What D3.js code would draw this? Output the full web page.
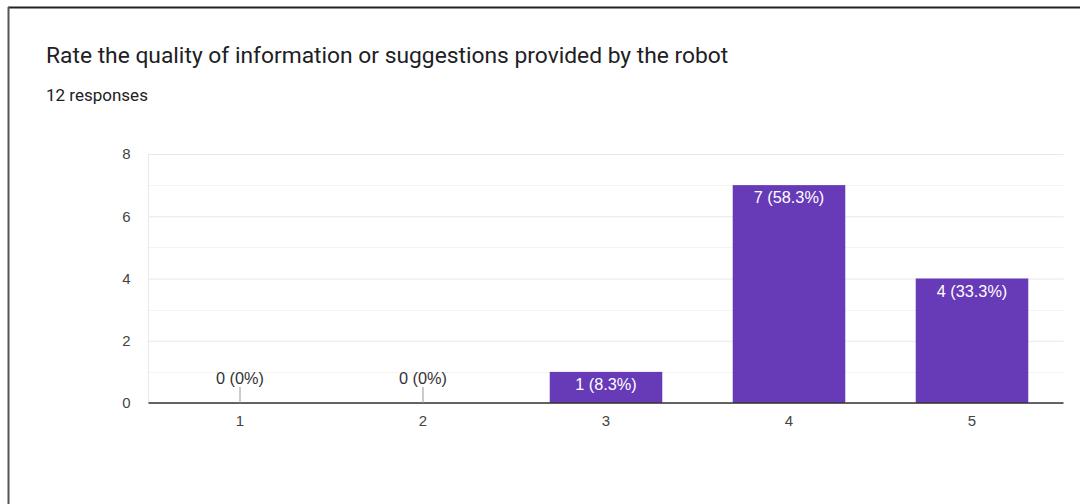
<!DOCTYPE html>
<html>
<head>
<meta charset="utf-8">
<script src="https://cdn.jsdelivr.net/npm/d3@7"></script>
<style>
  html, body { margin: 0; padding: 0; background: #fff; }
  svg { display: block; }
</style>
</head>
<body>
<svg id="chart" width="1080" height="504"></svg>
<script>
// Survey results: rating counts for each score
const categories = ["1", "2", "3", "4", "5"];
const counts = [0, 0, 1, 7, 4];
const valueLabels = ["0 (0%)", "0 (0%)", "1 (8.3%)", "7 (58.3%)", "4 (33.3%)"];
const yTicks = [0, 2, 4, 6, 8];
const titleText = "Rate the quality of information or suggestions provided by the robot";
const subtitleText = "12 responses";

const svg = d3.select("#chart");
const W = 1080, H = 504;
const plot = { left: 148.5, right: 1063.5, top: 154, bottom: 403 };
const labelFont = "Arial, 'Liberation Sans', sans-serif";

// card frame
svg.append("line").attr("x1", 8).attr("x2", W).attr("y1", 7.5).attr("y2", 7.5)
  .attr("stroke", "#222").attr("stroke-width", 2);
svg.append("line").attr("x1", 8.5).attr("x2", 8.5).attr("y1", 7).attr("y2", H)
  .attr("stroke", "#555").attr("stroke-width", 2);

svg.append("text").attr("x", 46).attr("y", 63)
  .attr("font-family", "Roboto, Arial, sans-serif").attr("font-size", 22.8)
  .attr("fill", "#202124").text(titleText);
svg.append("text").attr("x", 46).attr("y", 101)
  .attr("font-family", "Roboto, Arial, sans-serif").attr("font-size", 17)
  .attr("fill", "#202124").text(subtitleText);

const x = d3.scaleBand().domain(categories).range([plot.left, plot.right]).paddingInner(0.385).paddingOuter(0.1925);
const y = d3.scaleLinear().domain([0, 8]).range([plot.bottom, plot.top]);

// minor gridlines (every unit)
const minor = d3.range(1, 8, 2);
svg.append("g").selectAll("line").data(minor).join("line")
  .attr("x1", plot.left).attr("x2", plot.right)
  .attr("y1", d => Math.round(y(d)) + 0.5).attr("y2", d => Math.round(y(d)) + 0.5)
  .attr("stroke", "#f3f3f3");

// major gridlines + y labels via axis
const yAxis = d3.axisLeft(y).tickValues(yTicks).tickSize(-(plot.right - plot.left)).tickPadding(18).tickFormat(d3.format("d"));
const gy = svg.append("g").attr("transform", `translate(${plot.left},0)`).call(yAxis);
gy.select(".domain").remove();
gy.selectAll(".tick line").attr("stroke", "#e8e8e8");
gy.selectAll(".tick text").attr("font-family", labelFont)
  .attr("font-size", 15).attr("fill", "#444");

// left edge of plot area
svg.append("line").attr("x1", plot.left).attr("x2", plot.left).attr("y1", plot.top).attr("y2", plot.bottom)
  .attr("stroke", "#e8e8e8");

const data = categories.map((c, i) => ({ c, v: counts[i], label: valueLabels[i] }));

// bars
svg.append("g").selectAll("rect").data(data.filter(d => d.v > 0)).join("rect")
  .attr("x", d => x(d.c)).attr("width", x.bandwidth())
  .attr("y", d => y(d.v)).attr("height", d => y(0) - y(d.v))
  .attr("fill", "#673ab7");

// baseline
svg.append("line").attr("x1", plot.left).attr("x2", plot.right)
  .attr("y1", y(0)).attr("y2", y(0)).attr("stroke", "#333").attr("stroke-width", 1.5);

// zero-value stems and labels above the axis
const zero = data.filter(d => d.v === 0);
svg.append("g").selectAll("line").data(zero).join("line")
  .attr("x1", d => x(d.c) + x.bandwidth() / 2).attr("x2", d => x(d.c) + x.bandwidth() / 2)
  .attr("y1", y(0) - 16).attr("y2", y(0))
  .attr("stroke", "#999");
svg.append("g").selectAll("text").data(zero).join("text")
  .attr("x", d => x(d.c) + x.bandwidth() / 2).attr("y", y(0) - 19)
  .attr("text-anchor", "middle")
  .attr("font-family", labelFont).attr("font-size", 16.3)
  .attr("fill", "#333").text(d => d.label);

// value labels inside bars
svg.append("g").selectAll("text").data(data.filter(d => d.v > 0)).join("text")
  .attr("x", d => x(d.c) + x.bandwidth() / 2).attr("y", d => y(d.v) + 18)
  .attr("text-anchor", "middle")
  .attr("font-family", labelFont).attr("font-size", 16.3)
  .attr("fill", "#fff").text(d => d.label);

// x axis labels
const xAxis = d3.axisBottom(x).tickSize(0).tickPadding(12);
const gx = svg.append("g").attr("transform", `translate(0,${plot.bottom})`).call(xAxis);
gx.select(".domain").remove();
gx.selectAll(".tick text").attr("font-family", labelFont)
  .attr("font-size", 15).attr("fill", "#444");
</script>
</body>
</html>
